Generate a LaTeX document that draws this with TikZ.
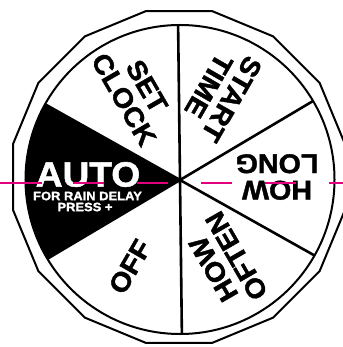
\documentclass[tikz,border=0pt]{standalone}
\usepackage{fontspec}
\setmainfont{Liberation Sans}
\newfontfamily\dialfont{Liberation Sans}[BoldFeatures={FakeBold=1.5,FakeStretch=1.06}]
\definecolor{magline}{RGB}{228,0,124}
\begin{document}
\begin{tikzpicture}[x=1pt,y=1pt,
  rim/.style={line width=2pt},
  spoke/.style={line width=2.6pt},
  lbl/.style={font=\dialfont\bfseries\fontsize{27}{26.5}\selectfont, align=center, inner sep=0pt, text=black},
  autolbl/.style={font=\dialfont\bfseries\fontsize{35}{35}\selectfont, inner sep=0pt, text=white},
  smalllbl/.style={font=\dialfont\bfseries\fontsize{12.2}{12.2}\selectfont, inner sep=0pt, text=white},
  guideline/.style={draw=magline, line width=1.1pt}]
\useasboundingbox (-180,-167) rectangle (162,180);
\fill[white] (-180,-167) rectangle (162,180);
\coordinate (hub) at (0,0);
% black AUTO sector
\fill[black] (hub) -- (150.7:154.5) arc[start angle=150.7, end angle=210.7, radius=154.5] -- cycle;
% inner circle
\draw[rim] (0,0.5) circle[radius=154.5];
% spokes
\foreach \a [count=\i] in {30.7,90.7,150.7,210.7,270.7,330.7} {
  \coordinate (r\i) at (\a:154.5);
  \draw[spoke] (hub) -- (r\i);
}
% outer 16-gon
\begin{scope}[shift={(-1,3)}]
\draw[rim, line join=miter] (11.25:169.2) \foreach \k in {1,...,15} { -- ({11.25+22.5*\k}:169.2) } -- cycle;
\end{scope}
% labels
\node[autolbl] (auto) at (-92,5.5) {AUTO};
\node[smalllbl] (rain) at (-92.5,-16) {FOR RAIN DELAY};
\node[smalllbl] (press) at (-95,-27) {PRESS +};
\node[lbl, rotate=-60] (setclock) at (-44.6,87.1) {SET\\CLOCK};
\node[lbl, rotate=-120] (start) at (40.3,87.5) {START\\TIME};
\node[lbl, rotate=180] (howlong) at (97,3) {HOW\\LONG};
\node[lbl, rotate=120] (often) at (45,-82.5) {HOW\\OFTEN};
\node[lbl, rotate=60] (off) at (-50,-86.7) {OFF};
% magenta guide
\draw[guideline] (-180,-3) -- (-138,-3);
\draw[guideline, dash pattern=on 31pt off 33pt] (-107,-3) -- (170,-3);
\end{tikzpicture}
\end{document}
